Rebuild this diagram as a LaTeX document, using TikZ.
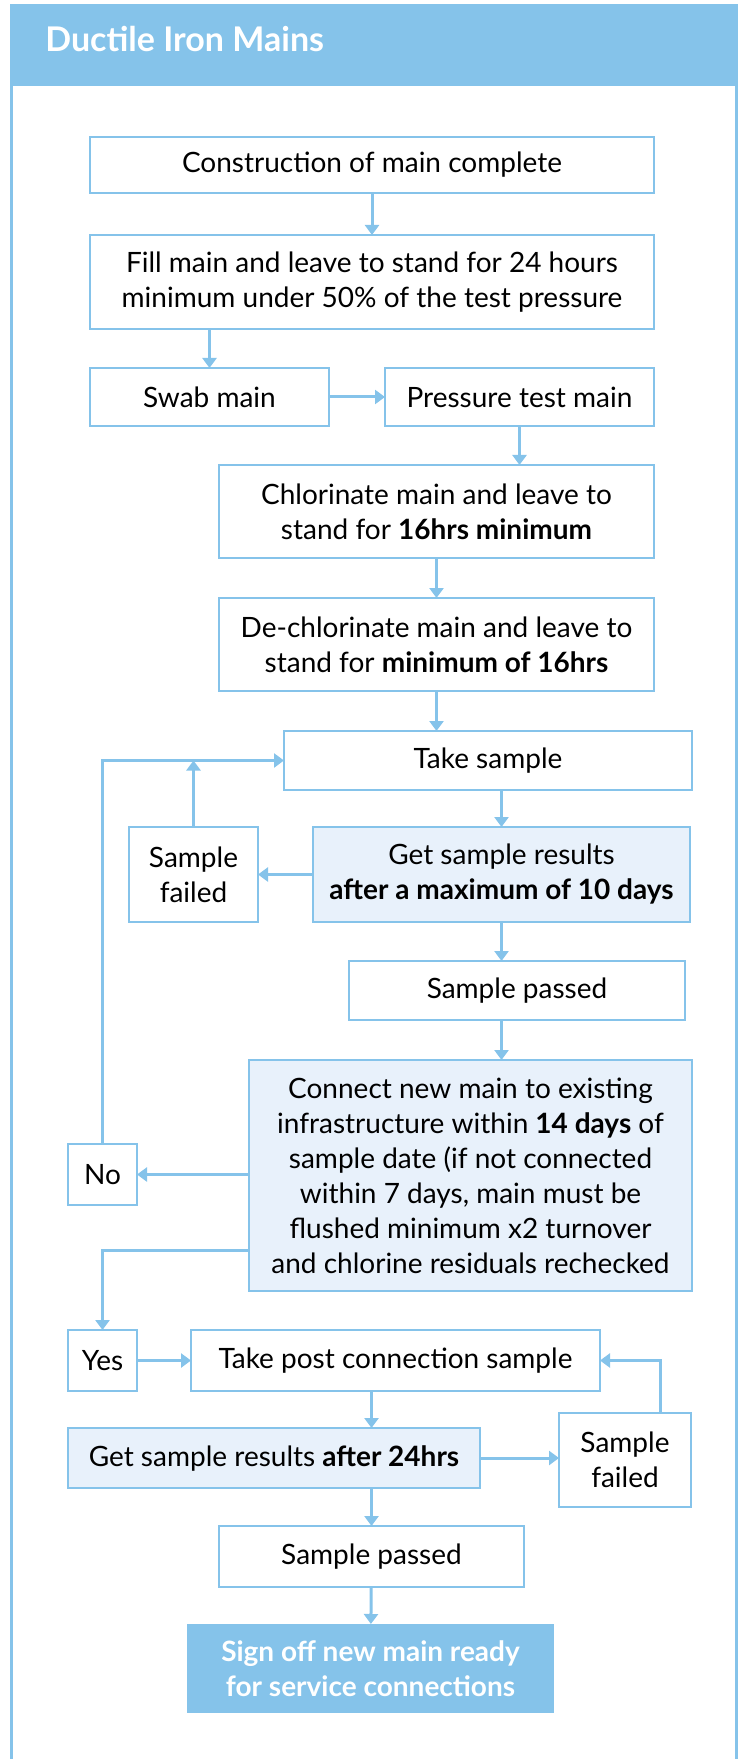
\documentclass[tikz,border=0pt]{standalone}
\usepackage{fontspec}
\setmainfont{Lato}
\usetikzlibrary{arrows.meta}
\definecolor{skyblue}{HTML}{85C3EA}
\definecolor{paleblue}{HTML}{E8F1FB}

\begin{document}
\begin{tikzpicture}[x=0.5pt,y=-0.5pt]
\tikzstyle{box}=[draw=skyblue,line width=1pt,outer sep=0pt,inner sep=0pt,align=center,font=\fontsize{14}{17.5}\selectfont]
\tikzstyle{shaded}=[box,fill=paleblue]
\tikzstyle{arr}=[draw=skyblue,line width=1.5pt,-{Triangle[width=7pt,length=5pt]}]

\useasboundingbox (0,0) rectangle (740,1759);

\fill[skyblue] (11,6) rectangle (736,86);
\draw[skyblue,line width=1.5pt] (11,1759) -- (11,6) -- (736,6) -- (736,1759);
\node (title) [anchor=west,inner sep=0pt,text=white,font=\fontsize{17}{20}\selectfont\bfseries] at (45,39) {Ductile Iron Mains};

\node (B1) [box,minimum width=282pt,minimum height=28pt] at (372,165) {Construction of main complete};
\node (B2) [box,minimum width=282pt,minimum height=47pt] at (372,282) {Fill main and leave to stand for 24 hours\\minimum under 50\% of the test pressure};
\node (B3) [box,minimum width=119.5pt,minimum height=29pt] at (209.5,397) {Swab main};
\node (B4) [box,minimum width=134.5pt,minimum height=29pt] at (519.5,397) {Pressure test main};
\node (B5) [box,minimum width=217.5pt,minimum height=46.5pt] at (436.5,511.5) {Chlorinate main and leave to\\stand for \textbf{16hrs minimum}};
\node (B6) [box,minimum width=217.5pt,minimum height=46.5pt] at (436.5,644.5) {De-chlorinate main and leave to\\stand for \textbf{minimum of 16hrs}};
\node (B7) [box,minimum width=204pt,minimum height=29.5pt] at (488,760.5) {Take sample};
\node (B8) [box,minimum width=64.5pt,minimum height=47.5pt] at (193.5,874.5) {Sample\\failed};
\node (B9) [shaded,minimum width=188.5pt,minimum height=47.5pt] at (501.5,874.5) {Get sample results\\\textbf{after a maximum of 10 days}};
\node (B10) [box,minimum width=168pt,minimum height=29.5pt] at (517,990.5) {Sample passed};
\node (B11) [shaded,minimum width=221.5pt,minimum height=115.5pt] at (470.5,1175.5) {Connect new main to existing\\infrastructure within \textbf{14 days} of\\sample date (if not connected\\within 7 days, main must be\\flushed minimum x2 turnover\\and chlorine residuals rechecked};
\node (No) [box,minimum width=34.5pt,minimum height=30.5pt] at (102.5,1174.5) {No};
\node (Yes) [box,minimum width=34.5pt,minimum height=30.5pt] at (102.5,1360.5) {Yes};
\node (B14) [box,minimum width=204.5pt,minimum height=30.5pt] at (395.5,1360.5) {Take post connection sample};
\node (B15) [shaded,minimum width=206pt,minimum height=30pt] at (274,1458) {Get sample results \textbf{after 24hrs}};
\node (B16) [box,minimum width=66pt,minimum height=47pt] at (625,1460) {Sample\\failed};
\node (B17) [box,minimum width=152.5pt,minimum height=30.5pt] at (371.5,1556.5) {Sample passed};
\node (B18) [box,draw=none,fill=skyblue,text=white,font=\fontsize{14}{17.5}\selectfont\bfseries,minimum width=183.5pt,minimum height=44.5pt] at (370.5,1668.5) {Sign off new main ready\\for service connections};

\draw[arr] (B1) -- (B2);
\draw[arr] (B3.north |- B2.south) -- (B3.north);
\draw[arr] (B3) -- (B4);
\draw[arr] (B4.south) -- (B4.south |- B5.north);
\draw[arr] (B5) -- (B6);
\draw[arr] (B6.south) -- (B6.south |- B7.north);
\draw[arr] (B9.north |- B7.south) -- (B9.north);
\draw[arr] (B9) -- (B8);
\draw[arr] (B8.north) -- (B8.north |- B7.west);
\draw[arr] (No.north) |- (B7.west);
\draw[arr] (B9.south) -- (B9.south |- B10.north);
\draw[arr] (B9.south |- B10.south) -- (B9.south |- B11.north);
\draw[arr] (B11.west |- No) -- (No);
\draw[arr] ([yshift=20.5pt]B11.south west) -| (Yes.north);
\draw[arr] (Yes) -- (B14);
\draw[arr] (B17.north |- B14.south) -- (B17.north |- B15.north);
\draw[arr] (B15) -- (B16.west |- B15);
\draw[arr] ([xshift=-15.5pt]B16.north east) |- (B14.east);
\draw[arr] (B17.north |- B15.south) -- (B17);
\draw[arr] (B17) -- (B18);

\end{tikzpicture}
\end{document}
